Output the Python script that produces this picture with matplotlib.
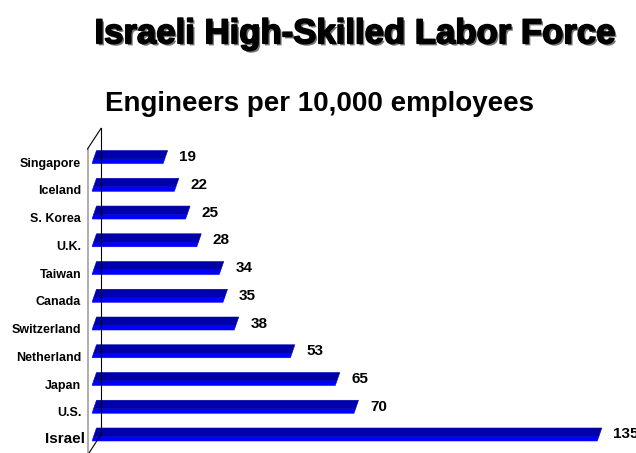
import matplotlib
matplotlib.use("Agg")
import matplotlib.pyplot as plt
import matplotlib.patheffects as pe

plt.rcParams['font.family'] = ['Liberation Sans', 'DejaVu Sans']

# data, bottom to top
countries = ['Israel', 'U.S.', 'Japan', 'Netherland', 'Switzerland', 'Canada',
             'Taiwan', 'U.K.', 'S. Korea', 'Iceland', 'Singapore']
engineers = [135, 70, 65, 53, 38, 35, 34, 28, 25, 22, 19]

title = 'Israeli High-Skilled Labor Force'
subtitle = 'Engineers per 10,000 employees'

dark_blue = '#0000AA'
bright_blue = '#0000FF'

fig = plt.figure(figsize=(6.36, 4.53), dpi=100)
ax = fig.add_axes([92 / 636, 0, 544 / 636, 1])
ax.set_xlim(0, 544 / 3.743)
ax.set_ylim(-0.667, 15.66)
ax.axis('off')

# fake 3d walls
ax.plot([-1.2, -1.2], [-0.75, 10.29], color='#a8a8a8', lw=1.3, clip_on=False)
ax.plot([2.4, 2.4], [0.0, 11.03], color='black', lw=0.8, clip_on=False)
ax.plot([-1.2, 2.4], [10.29, 11.03], color='black', lw=0.8, clip_on=False)
ax.plot([-1.2, 2.4], [-0.75, 0.0], color='black', lw=0.8, clip_on=False)

half = 0.234      # half bar thickness
split = 0.065     # where the bright front strip ends
shear = 1.2       # slant of the bar in data units

for i, (name, v) in enumerate(zip(countries, engineers)):
    y0 = i - half
    ys = i - split
    y1 = i + half
    s_mid = shear * (ys - y0) / (y1 - y0)
    # bright lower strip
    ax.fill([0, v, v + s_mid, s_mid], [y0, y0, ys, ys], facecolor=bright_blue,
            edgecolor=bright_blue, lw=0.4)
    # dark upper face
    ax.fill([s_mid, v + s_mid, v + shear, shear], [ys, ys, y1, y1],
            facecolor=dark_blue, edgecolor=dark_blue, lw=0.4)
    # value label
    ax.text(v + 4.3, i, str(v), ha='left', va='center', fontsize=11,
            fontweight='bold')
    # category label
    if name == 'Israel':
        ax.text(-1.9, i - 0.16, name, ha='right', va='center', fontsize=11,
                fontweight='bold')
    else:
        ax.text(-2.9, i - 0.24, name, ha='right', va='center', fontsize=9,
                fontweight='bold')

fig.text(355 / 636, 1 - 43.3 / 453, title, ha='center', va='baseline',
         fontsize=25, fontweight='bold',
         path_effects=[pe.SimplePatchShadow(offset=(1.5, -1.5), shadow_rgbFace='#777777', alpha=1),
                       pe.Stroke(linewidth=1.2, foreground='black'), pe.Normal()])
fig.text(319 / 636, 1 - 111 / 453, subtitle, ha='center', va='baseline',
         fontsize=20, fontweight='bold')

fig.savefig('out.png', dpi=100)
